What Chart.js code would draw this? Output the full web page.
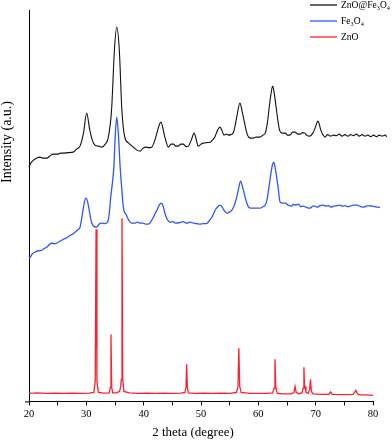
<!DOCTYPE html>
<html>
<head>
<meta charset="utf-8">
<script src="https://cdn.jsdelivr.net/npm/chart.js@4.4.1/dist/chart.umd.min.js"></script>
<style>
html,body{margin:0;padding:0;background:#fff;}
canvas{display:block;}
</style>
</head>
<body>
<canvas id="c" width="392" height="440"></canvas>
<script>
// ---- Data (2 theta in degrees, intensity in arbitrary units) ----
const seriesLabels = ['ZnO@Fe\u2083O\u2084', 'Fe\u2083O\u2084', 'ZnO'];
const seriesColors = ['#111111', '#2f55ff', '#ff1f2e'];

const zfTheta = [20.0,20.3,20.8,21.3,21.9,22.5,23.1,23.7,24.2,25.0,25.5,26.0,26.8,27.7,28.3,28.9,29.5,30.06,30.6,31.1,31.5,32.1,32.7,33.3,33.8,34.4,34.9,35.3,35.75,36.2,36.7,37.4,38.2,38.8,39.4,39.9,40.4,40.9,41.4,41.9,42.3,43.0,43.7,44.3,44.8,45.2,45.6,46.0,46.5,46.9,47.4,47.8,48.3,48.8,49.2,49.5,50.0,50.4,51.0,51.6,52.0,52.4,52.9,53.3,53.7,54.0,54.4,54.8,55.2,55.6,55.9,56.2,56.8,57.2,57.5,57.9,58.3,58.7,59.1,59.6,60.3,60.8,61.2,61.6,61.9,62.2,62.5,62.8,63.1,63.4,63.7,64.2,64.7,65.1,65.5,66.0,66.4,66.9,67.3,67.7,68.1,68.5,69.0,69.5,69.9,70.4,70.9,71.3,71.6,72.1,72.6,73.1,73.6,74.1,74.6,75.1,75.6,76.1,76.6,77.1,77.6,78.1,78.6,79.1,79.6,80.1,80.6,81.1,81.6,82.1,82.4];
const zfIntensity = [234,238,241,243,244,243,243,245.5,247,247,248,248,248.5,249,252,255,268,288,271,260,256,255,254,257,263,291,351,374,351,291,264,258,254,251,250,253,254,253.5,254,260,268,279,264,254,257,257,255,255,257,257,254.5,255,261,268,261,255,257,258,258.5,259,261,264,271,274,270,266,267,266,266.5,268,274,283,298,289,281,270,264,263,263,264,264,266,268,279,294,307,315,307,294,281,271,268,268,266,266,269,269,267,267,268.5,268,265.5,265,268,273,280,271,266,264,266.5,265,266,265.5,267,265,266.5,265,266.5,265.5,267,265,266.5,265,266,264.5,266,264.5,266,265,266,264.5];

const feTheta = [20.0,20.2,20.6,21.0,21.6,22.2,22.7,23.1,23.6,24.0,24.4,24.8,25.4,26.0,26.6,27.2,27.6,28.0,28.5,28.9,29.2,29.5,29.9,30.2,30.5,30.9,31.3,31.8,32.2,32.7,33.2,33.7,34.0,34.2,34.5,34.8,35.05,35.3,35.6,35.9,36.2,36.45,37.0,37.4,37.9,38.4,38.9,39.4,39.9,40.4,40.8,41.3,41.7,42.1,42.4,42.7,43.1,43.4,43.7,44.1,44.6,45.1,45.6,46.3,46.9,47.5,48.1,48.7,49.3,49.8,50.4,51.0,51.5,51.9,52.3,52.7,53.1,53.4,53.7,54.0,54.3,54.6,55.0,55.4,55.8,56.1,56.5,56.9,57.3,57.7,58.0,58.3,58.7,59.1,59.7,60.3,60.8,61.2,61.5,61.7,62.0,62.2,62.45,62.7,62.95,63.2,63.5,63.8,64.2,64.7,65.2,65.8,66.1,66.4,67.0,67.4,67.8,68.3,69.0,69.5,69.9,70.3,70.7,71.3,71.8,72.3,72.7,73.1,73.6,74.2,74.7,75.2,75.6,76.0,76.6,77.2,77.7,78.3,78.8,79.3,79.8,80.3,80.8,81.2];
const feIntensity = [143,144,147.5,149,150.5,151,153,154,157,158,157.5,158,160,162,163.5,166,167,169,171.5,174,183,194,203,200,191,179,175,174,177,178,177.5,179,188,201,216,234,266,284,266,234,211,194,186,181,178,178,179,178,178,177,177,180,184,189,192,196,198,195,188,182,179,179.5,178,178.7,179.5,178,179,178,177.5,177,177.5,177.7,181,184,189,193,195.5,196,194,191,189,188,189.5,191,196,201,211,220,213,204,198,194,193,193,193,193,194.5,196,201,208,220,228,236,239,233,224,211,199,198,198,196,195,197,196,197,194.5,195,194,193,195,195,194,195.5,196,195,195.5,194,195,195.5,196,195,195.5,194.5,195,196,196,195,194,195,195.5,195,194.5,194,193.7];

const znTheta = [20.0,21.5,23.0,24.5,26.0,27.5,29.0,30.5,31.3,31.55,31.7,31.85,32.1,33.0,34.0,34.18,34.3,34.42,34.6,35.3,35.8,36.0,36.1,36.22,36.35,36.55,37.5,39.0,40.5,42.0,43.5,45.0,46.5,47.2,47.38,47.5,47.62,47.8,49.0,50.5,52.0,53.5,55.0,56.2,56.45,56.6,56.75,57.0,58.5,60.0,61.5,62.5,62.75,62.9,63.05,63.3,64.5,65.8,66.2,66.4,66.6,67.0,67.6,67.8,67.95,68.05,68.15,68.3,68.7,68.95,69.1,69.25,69.5,71.0,72.3,72.6,72.9,74.5,76.5,76.8,77.0,77.2,77.5,78.8,80.0];
const znIntensity = [8,8.5,8,8.3,8,8.2,8,8.3,9,20,172,20,9,8.3,8.5,14,67,14,8.5,8.5,10,15,22,183,22,10,8.5,8,8.3,8,8.2,8,8.2,9,14,37,14,8.5,8,8.3,8,8.2,8,9,15,53,15,9,8,8,8,8.5,13,42,14,8,7.5,7.5,9,15,9,7.5,8.5,13,34,16,15,9,8,12,22,10,7.5,7,7,9.5,7,6.8,7,9,11,8.5,6.5,6.5,6];

const xTicksMajor = [20, 30, 40, 50, 60, 70, 80];
const xTitle = '2 theta (degree)';
const yTitle = 'Intensity (a.u.)';

function pts(xs, ys) { return xs.map((x, i) => ({x: x, y: ys[i]})); }

const serif = '"Liberation Serif", "Times New Roman", serif';

const overlayPlugin = {
  id: 'overlay',
  afterDraw(chart) {
    const ctx = chart.ctx;
    const ca = chart.chartArea;
    ctx.save();
    ctx.fillStyle = '#000';
    ctx.textAlign = 'center';
    ctx.textBaseline = 'middle';
    // axis titles
    ctx.font = '13px ' + serif;
    ctx.fillText(xTitle, (ca.left + ca.right) / 2 - 8, ca.bottom + 31);
    ctx.save();
    ctx.translate(ca.left - 22, ca.top + 132);
    ctx.rotate(-Math.PI / 2);
    ctx.font = '14px ' + serif;
    ctx.fillText(yTitle, 0, 0);
    ctx.restore();
    // small tick at origin on the y axis
    ctx.strokeStyle = '#000';
    ctx.lineWidth = 1;
    ctx.beginPath();
    ctx.moveTo(ca.left - 4, ca.bottom + 0.5);
    ctx.lineTo(ca.left, ca.bottom + 0.5);
    ctx.stroke();
    // legend
    ctx.textAlign = 'left';
    ctx.font = '9.5px ' + serif;
    chart.data.datasets.forEach((ds, i) => {
      const y = 5 + i * 16;
      ctx.strokeStyle = ds.borderColor;
      ctx.lineWidth = 1.3;
      ctx.beginPath();
      ctx.moveTo(ca.right - 63, y);
      ctx.lineTo(ca.right - 36, y);
      ctx.stroke();
      ctx.fillStyle = '#000';
      ctx.fillText(ds.label, ca.right - 32, y);
    });
    ctx.restore();
  }
};

new Chart(document.getElementById('c'), {
  type: 'line',
  data: {
    datasets: [
      {label: seriesLabels[0], data: pts(zfTheta, zfIntensity), borderColor: seriesColors[0], borderWidth: 1.1, pointRadius: 0, cubicInterpolationMode: 'monotone', clip: false},
      {label: seriesLabels[1], data: pts(feTheta, feIntensity), borderColor: seriesColors[1], borderWidth: 1.3, pointRadius: 0, cubicInterpolationMode: 'monotone', clip: false},
      {label: seriesLabels[2], data: pts(znTheta, znIntensity), borderColor: seriesColors[2], borderWidth: 1.3, pointRadius: 0, tension: 0, clip: false}
    ]
  },
  options: {
    responsive: false,
    devicePixelRatio: 1,
    animation: false,
    events: [],
    layout: {padding: {left: 21, right: 19, top: 10, bottom: 16}},
    plugins: {legend: {display: false}, tooltip: {enabled: false}, title: {display: false}},
    scales: {
      x: {
        type: 'linear',
        afterDataLimits(s) { s.min = xTicksMajor[0]; s.max = xTicksMajor[xTicksMajor.length - 1]; },
        ticks: {
          stepSize: 5, autoSkip: false, maxRotation: 0, padding: 3,
          color: '#000', font: {family: serif, size: 10.5},
          callback: (v) => (xTicksMajor.includes(v) ? String(v) : '')
        },
        grid: {display: true, drawOnChartArea: false, drawTicks: true, tickLength: 4, color: '#000'},
        border: {display: true, color: '#000', width: 1}
      },
      y: {
        type: 'linear', min: 0, max: 391,
        ticks: {display: false},
        grid: {display: false},
        border: {display: true, color: '#000', width: 1}
      }
    }
  },
  plugins: [overlayPlugin]
});
</script>
</body>
</html>
